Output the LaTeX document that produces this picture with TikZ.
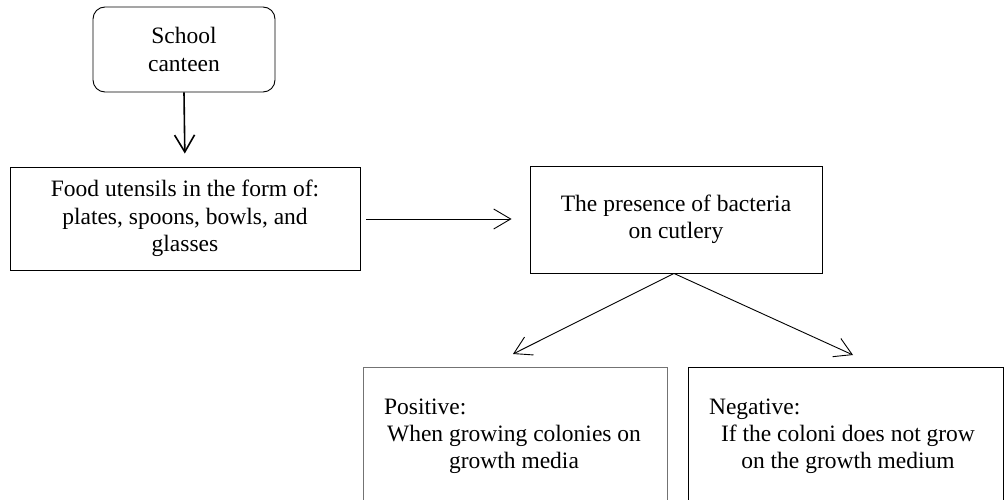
\documentclass[tikz,border=0pt]{standalone}
\usepackage{fontspec}
\setmainfont{Liberation Serif}
\usetikzlibrary{arrows.meta}
\begin{document}
\begin{tikzpicture}[x=1pt,y=-1pt,
  every node/.style={font=\fontsize{23.5}{27.5}\selectfont},
  box/.style={draw=black,line width=0.9pt,rectangle,inner sep=0pt,align=center},
  grbox/.style={box,draw=black!55},
  thinarr/.style={line width=0.9pt,-{Straight Barb[length=17pt,width=20pt,line width=0.9pt]}},
  thickarr/.style={line width=1.6pt,-{Straight Barb[length=17pt,width=20pt,line width=1.6pt]}}]
\useasboundingbox (0,0) rectangle (1004,500);
\clip (0,0) rectangle (1004,500);
\node[box,rounded corners=12pt,minimum width=182pt,minimum height=85pt] (canteen) at (184,49.5) {School\\canteen};
\node[box,minimum width=350pt,minimum height=103pt] (food) at (185,218.5) {Food utensils in the form of:\\plates, spoons, bowls, and\\glasses};
\node[box,minimum width=292pt,minimum height=107pt] (bact) at (676,219.5) {The presence of bacteria\\on cutlery};
\node[grbox,minimum width=304pt,minimum height=173pt,anchor=north] (pos) at (515,367) {};
\node[box,minimum width=315pt,minimum height=173pt,anchor=north] (neg) at (845.5,367) {};
\node (postext) at (514,436) {\begin{tabular}{@{}c@{}}\multicolumn{1}{@{}l@{}}{\hspace*{-3pt}Positive:}\\[-0.5pt] When growing colonies on\\[-0.5pt] growth media\end{tabular}};
\node (negtext) at (848,436) {\begin{tabular}{@{}c@{}}\multicolumn{1}{@{}l@{}}{\hspace*{-12pt}Negative:}\\[-0.5pt] If the coloni does not grow\\[-0.5pt] on the growth medium\end{tabular}};
\coordinate (tipL) at (513,354);
\coordinate (tipR) at (853,355);
\draw[thickarr,shorten >=13pt] (canteen.south) -- (food.north);
\draw[thinarr,shorten <=6pt,shorten >=18pt] (food.east |- 0,219) -- (bact.west |- 0,219);
\draw[thinarr] (bact.south -| 674,0) -- (tipL);
\draw[thinarr] (bact.south -| 674,0) -- (tipR);
\end{tikzpicture}
\end{document}
